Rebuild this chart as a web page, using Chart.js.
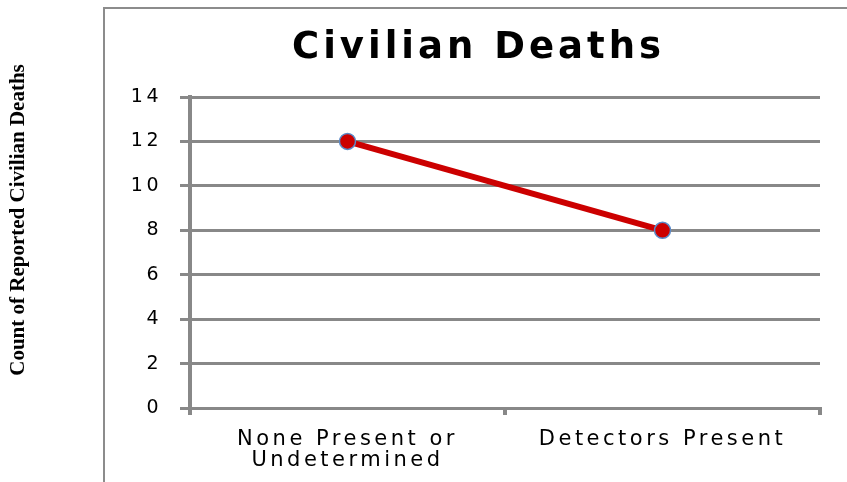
<!DOCTYPE html>
<html>
<head>
<meta charset="utf-8">
<script src="https://cdn.jsdelivr.net/npm/chart.js@4"></script>
<style>
  html, body { margin: 0; padding: 0; background: #ffffff; }
  #wrap { width: 847px; height: 482px; }
</style>
</head>
<body>
<div id="wrap"><canvas id="c" width="847" height="482"></canvas></div>
<script>
const titleText = 'Civilian Deaths';
const yAxisTitle = 'Count of Reported Civilian Deaths';
const categories = [['None Present or', 'Undetermined'], 'Detectors Present'];
const deaths = [12, 8];
const yMin = 0, yMax = 14, yStep = 2;

const GRID = '#888888';
const TICK_SPACING = '3.5px';

const spacingPlugin = {
  id: 'spacing',
  beforeUpdate(chart) { chart.ctx.letterSpacing = TICK_SPACING; },
  beforeLayout(chart) { chart.ctx.letterSpacing = TICK_SPACING; },
  beforeDraw(chart) {
    const ctx = chart.ctx;
    ctx.save();
    ctx.strokeStyle = '#8c8c8c';
    ctx.lineWidth = 2;
    ctx.strokeRect(104, 8, 900, 700);
    ctx.restore();
    ctx.letterSpacing = TICK_SPACING;
  },
  afterDraw(chart) {
    const ctx = chart.ctx;
    ctx.save();
    ctx.letterSpacing = '4px';
    ctx.fillStyle = '#000000';
    ctx.font = 'bold 37px "DejaVu Sans"';
    ctx.textAlign = 'left';
    ctx.textBaseline = 'alphabetic';
    ctx.fillText(titleText, 292, 58);
    ctx.restore();

    ctx.save();
    ctx.letterSpacing = '0px';
    ctx.fillStyle = '#000000';
    ctx.font = 'bold 21px "Liberation Serif"';
    ctx.translate(19, 220);
    ctx.rotate(-Math.PI / 2);
    ctx.textAlign = 'center';
    ctx.textBaseline = 'middle';
    ctx.fillText(yAxisTitle, 0, 0);
    ctx.restore();
  }
};

new Chart(document.getElementById('c'), {
  type: 'line',
  data: {
    labels: categories,
    datasets: [{
      data: deaths,
      borderColor: '#cc0000',
      borderWidth: 6,
      backgroundColor: '#cc0000',
      pointRadius: 8,
      pointBackgroundColor: '#cc0000',
      pointBorderColor: '#5b8ac8',
      pointBorderWidth: 1.5,
      tension: 0
    }]
  },
  options: {
    responsive: false,
    animation: false,
    layout: { padding: { top: 97, right: 27, left: 0, bottom: 0 } },
    plugins: { legend: { display: false }, title: { display: false }, tooltip: { enabled: false } },
    scales: {
      x: {
        offset: true,
        grid: { offset: true, drawOnChartArea: false, drawTicks: true, tickLength: 7, color: GRID, lineWidth: 4 },
        border: { display: true, color: GRID, width: 3 },
        ticks: { color: '#000000', font: { family: '"DejaVu Sans"', size: 21, lineHeight: 1.0 }, padding: 14, maxRotation: 0, autoSkip: false },
        afterFit(scale) { scale.height = 74; }
      },
      y: {
        min: yMin, max: yMax,
        grid: { color: GRID, lineWidth: 3, tickLength: 10, drawTicks: true },
        border: { display: true, color: GRID, width: 4 },
        ticks: { stepSize: yStep, color: '#000000', font: { family: '"DejaVu Sans"', size: 19 }, padding: 18 },
        afterFit(scale) { scale.width = 190; }
      }
    }
  },
  plugins: [spacingPlugin]
});
</script>
</body>
</html>
